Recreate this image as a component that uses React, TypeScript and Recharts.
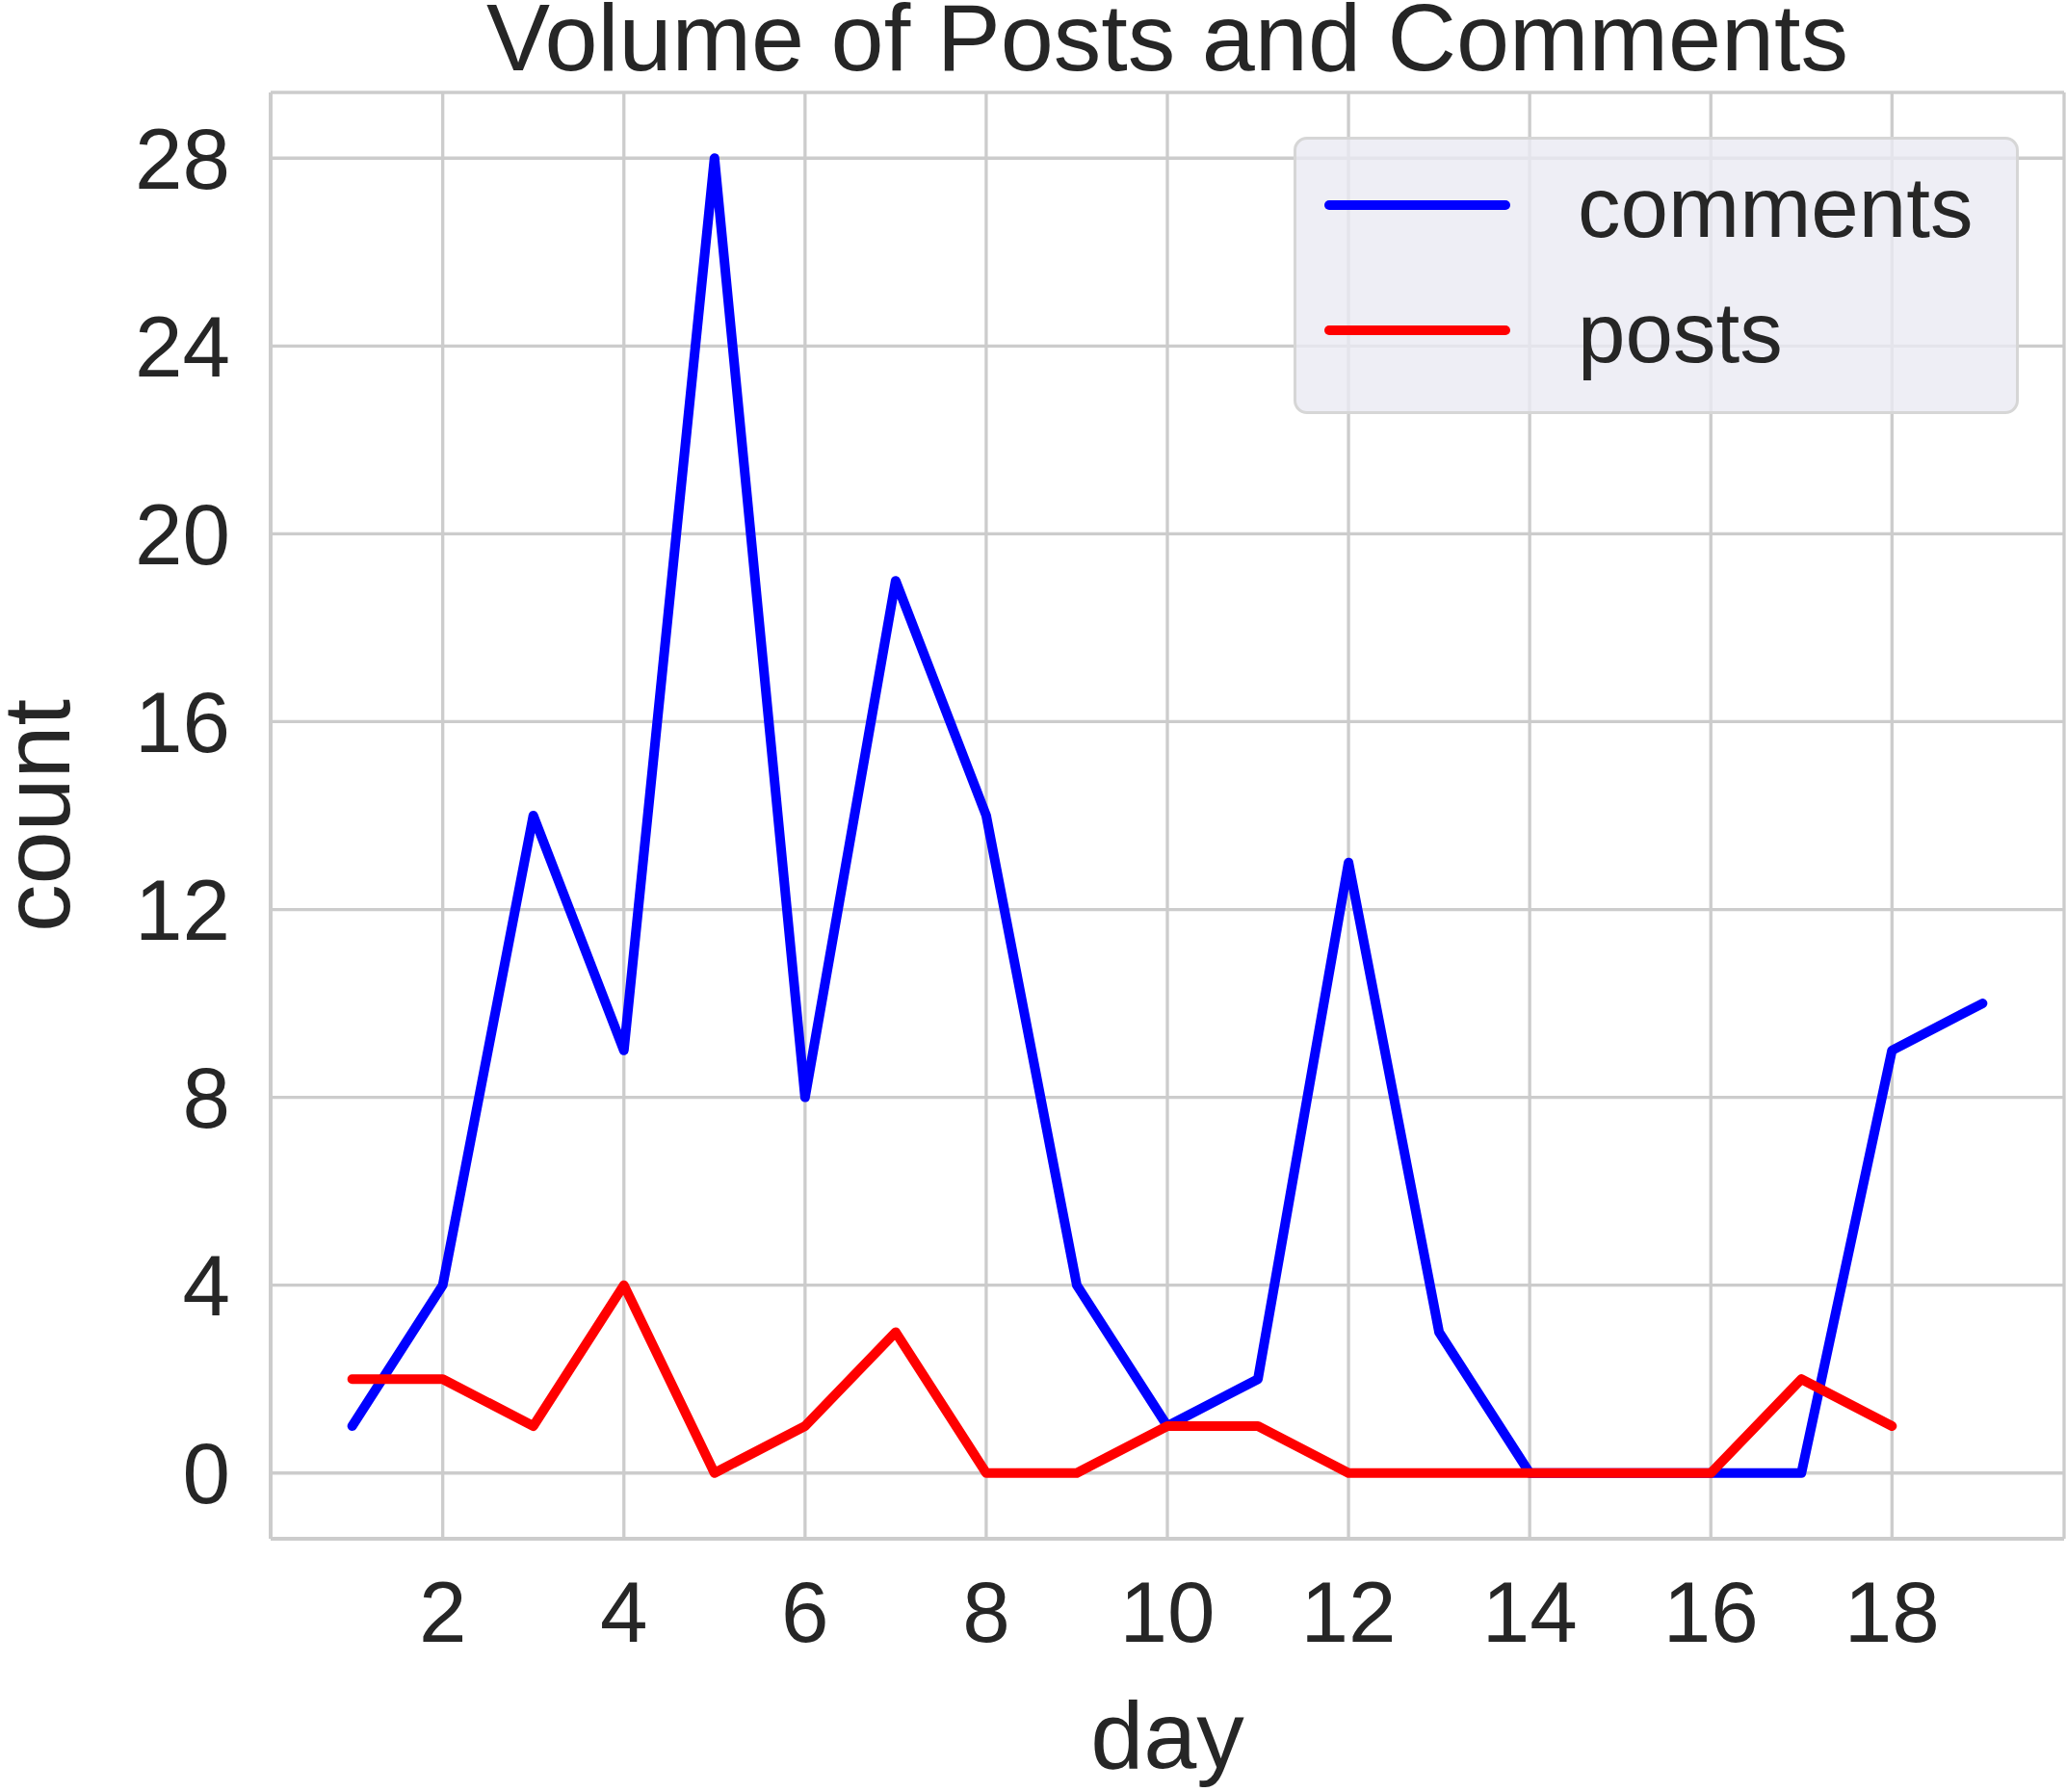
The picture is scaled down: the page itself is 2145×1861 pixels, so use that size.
import { CartesianGrid, Label, Line, LineChart, XAxis, YAxis } from "recharts";

// Daily activity.
const DAYS = [1, 2, 3, 4, 5, 6, 7, 8, 9, 10, 11, 12, 13, 14, 15, 16, 17, 18, 19];
const COMMENTS = [1, 4, 14, 9, 28, 8, 19, 14, 4, 1, 2, 13, 3, 0, 0, 0, 0, 9, 10];
// posts stop at day 18
const POSTS = [2, 2, 1, 4, 0, 1, 3, 0, 0, 1, 1, 0, 0, 0, 0, 0, 2, 1];

const X_TICKS = [2, 4, 6, 8, 10, 12, 14, 16, 18];
const Y_TICKS = [0, 4, 8, 12, 16, 20, 24, 28];

const SERIES = [
  { key: "comments", color: "#0000ff" },
  { key: "posts", color: "#ff0000" },
];

const FONT = "'Liberation Sans', Arial, sans-serif";
const INK = "#262626";
const GRID = "#cccccc";
const TICK = { fontSize: 89, fill: INK, fontFamily: FONT } as const;

const rows = DAYS.map((day, i) => ({
  day,
  comments: COMMENTS[i],
  posts: POSTS[i] ?? null,
}));

export default function App() {
  return (
    <div style={{ position: "relative", width: 2145, height: 1861, background: "#fff", fontFamily: FONT }}>
      <style>{"body{margin:0}"}</style>

      <div
        style={{
          position: "absolute",
          left: 281,
          width: 1862,
          top: -11,
          textAlign: "center",
          fontSize: 99,
          lineHeight: 1,
          color: INK,
          whiteSpace: "nowrap",
        }}
      >
        Volume of Posts and Comments
      </div>

      <LineChart width={2145} height={1861} data={rows} margin={{ top: 96, right: 2, bottom: 0, left: 0 }}>
        <CartesianGrid stroke={GRID} strokeWidth={3.3} />
        <XAxis
          type="number"
          dataKey="day"
          domain={[0.1, 19.9]}
          ticks={X_TICKS}
          allowDataOverflow
          height={263}
          tick={TICK}
          tickLine={false}
          tickSize={0}
          tickMargin={44}
          axisLine={{ stroke: GRID, strokeWidth: 4 }}
        >
          <Label
            content={({ viewBox }: any) => (
              <text
                x={viewBox.x + viewBox.width / 2}
                y={viewBox.y + viewBox.height - 25}
                textAnchor="middle"
                fontSize={99}
                fill={INK}
                fontFamily={FONT}
              >
                day
              </text>
            )}
          />
        </XAxis>
        <YAxis
          type="number"
          domain={[-1.4, 29.4]}
          ticks={Y_TICKS}
          allowDataOverflow
          width={281}
          tick={TICK}
          tickLine={false}
          tickSize={0}
          tickMargin={42}
          axisLine={{ stroke: GRID, strokeWidth: 4 }}
        >
          <Label
            content={({ viewBox }: any) => {
              const x = 72;
              const y = viewBox.y + viewBox.height / 2;
              return (
                <text
                  x={x}
                  y={y}
                  transform={`rotate(-90, ${x}, ${y})`}
                  textAnchor="middle"
                  fontSize={99}
                  fill={INK}
                  fontFamily={FONT}
                >
                  count
                </text>
              );
            }}
          />
        </YAxis>
        {SERIES.map((s) => (
          <Line
            key={s.key}
            type="linear"
            dataKey={s.key}
            stroke={s.color}
            strokeWidth={10}
            strokeLinecap="round"
            strokeLinejoin="round"
            dot={false}
            activeDot={false}
            isAnimationActive={false}
          />
        ))}
      </LineChart>

      {/* legend box, upper right like matplotlib's "best" placement */}
      <div
        style={{
          position: "absolute",
          left: 1343,
          top: 142,
          width: 747,
          height: 282,
          border: "3px solid #d6d6d6",
          borderRadius: 14,
          background: "rgba(234, 234, 242, 0.8)",
        }}
      >
        {SERIES.map((s, i) => (
          <div key={s.key}>
            <div
              style={{
                position: "absolute",
                left: 29,
                top: 68 + i * 130 - 5,
                width: 193,
                height: 10,
                borderRadius: 5,
                background: s.color,
              }}
            />
            <div
              style={{
                position: "absolute",
                left: 292,
                top: 20 + i * 130,
                fontSize: 89,
                lineHeight: "100px",
                color: INK,
                whiteSpace: "nowrap",
              }}
            >
              {s.key}
            </div>
          </div>
        ))}
      </div>
    </div>
  );
}
